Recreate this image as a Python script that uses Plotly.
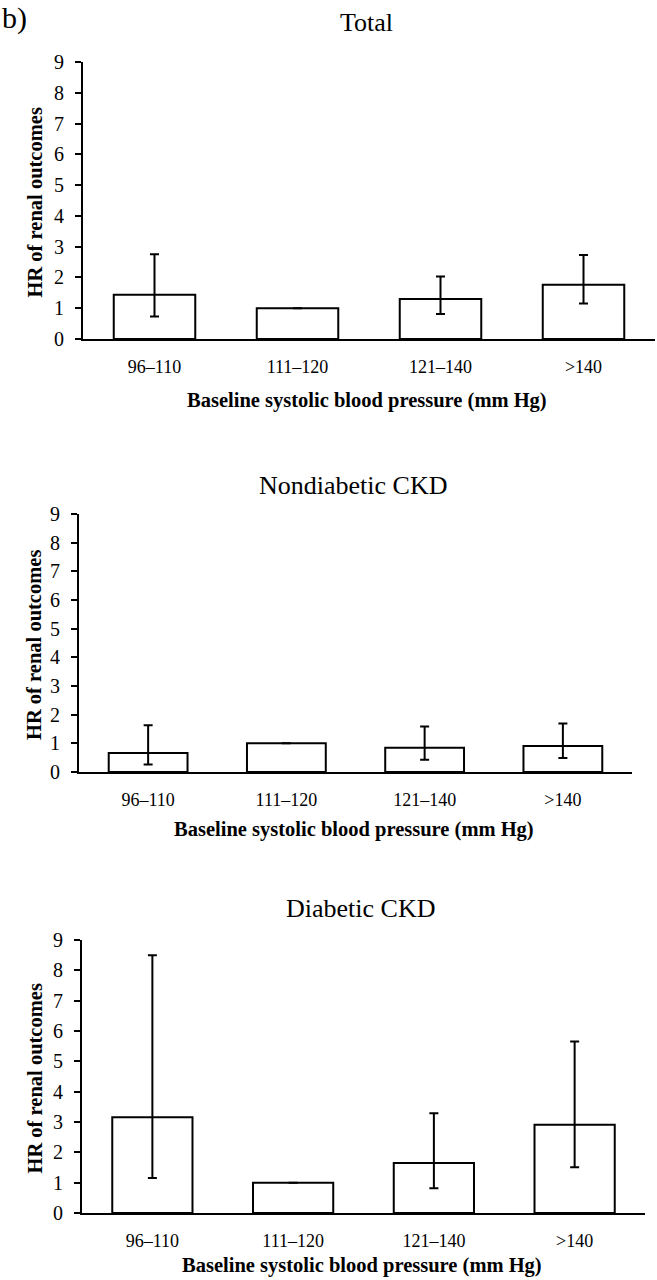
import plotly.graph_objects as go

CATEGORIES = ["96–110", "111–120", "121–140", ">140"]
PANEL_TITLES = ["Total", "Nondiabetic CKD", "Diabetic CKD"]
X_TITLE = "Baseline systolic blood pressure (mm Hg)"
Y_TITLE = "HR of renal outcomes"

HR_TOTAL = [1.44, 1.0, 1.30, 1.76]
UPPER_TOTAL = [2.75, 1.0, 2.03, 2.73]
LOWER_TOTAL = [0.73, 1.0, 0.81, 1.15]

HR_NONDIAB = [0.66, 1.0, 0.85, 0.91]
UPPER_NONDIAB = [1.63, 1.0, 1.59, 1.69]
LOWER_NONDIAB = [0.26, 1.0, 0.43, 0.49]

HR_DIAB = [3.16, 1.0, 1.65, 2.91]
UPPER_DIAB = [8.50, 1.0, 3.29, 5.65]
LOWER_DIAB = [1.15, 1.0, 0.82, 1.51]

Y_TICKS = list(range(0, 10))

W, H = 657, 1280
FONT = "Liberation Serif, Times New Roman, serif"

# pixel boxes of each plot area: (left, right, y at 0, y at 9)
BOXES = [(83, 655, 339, 62), (79, 632, 772, 514), (82, 645, 1213, 940)]
TITLE_Y = [22, 485, 908]
XTITLE_Y = [400, 829, 1265]


def px_x(v):
    return v / W


def px_y(v):
    return 1 - v / H


panels = [
    (HR_TOTAL, UPPER_TOTAL, LOWER_TOTAL),
    (HR_NONDIAB, UPPER_NONDIAB, LOWER_NONDIAB),
    (HR_DIAB, UPPER_DIAB, LOWER_DIAB),
]

fig = go.Figure()
for i, (hr, up, lo) in enumerate(panels):
    n = "" if i == 0 else str(i + 1)
    fig.add_trace(
        go.Bar(
            x=CATEGORIES,
            y=hr,
            width=0.57,
            marker=dict(color="white", line=dict(color="black", width=2)),
            error_y=dict(
                type="data",
                symmetric=False,
                array=[u - v for u, v in zip(up, hr)],
                arrayminus=[v - l for v, l in zip(hr, lo)],
                color="black",
                thickness=2,
                width=4.5,
            ),
            xaxis="x" + n,
            yaxis="y" + n,
            showlegend=False,
        )
    )
    left, right, y0, y9 = BOXES[i]
    fig.update_layout(
        {
            "xaxis" + n: dict(
                domain=[px_x(left), px_x(right)],
                anchor="y" + n,
                range=[-0.5, 3.5],
                automargin=False,
                showline=True,
                linecolor="black",
                linewidth=2,
                ticks="",
                ticklabelstandoff=10,
                tickfont=dict(family=FONT, size=18, color="black"),
                showgrid=False,
                zeroline=False,
                fixedrange=True,
            ),
            "yaxis" + n: dict(
                domain=[px_y(y0), px_y(y9)],
                anchor="x" + n,
                range=[0, 9],
                tickvals=Y_TICKS,
                automargin=False,
                showline=True,
                linecolor="black",
                linewidth=2,
                ticks="outside",
                ticklen=6,
                tickwidth=1.5,
                tickcolor="black",
                ticklabelstandoff=7,
                tickfont=dict(family=FONT, size=20, color="black"),
                showgrid=False,
                zeroline=False,
                fixedrange=True,
            ),
        }
    )
    # panel title
    fig.add_annotation(
        text=PANEL_TITLES[i],
        x=px_x((left + right) / 2 - 3),
        y=px_y(TITLE_Y[i]),
        xref="paper",
        yref="paper",
        showarrow=False,
        font=dict(family=FONT, size=26, color="black"),
        yanchor="middle",
    )
    # x-axis title
    fig.add_annotation(
        text="<b>" + X_TITLE + "</b>",
        x=px_x((left + right) / 2 - 2),
        y=px_y(XTITLE_Y[i]),
        xref="paper",
        yref="paper",
        showarrow=False,
        font=dict(family=FONT, size=20.5, color="black"),
        yanchor="middle",
    )
    # y-axis title
    fig.add_annotation(
        text="<b>" + Y_TITLE + "</b>",
        x=px_x(34),
        y=px_y((y0 + y9) / 2 + 2),
        xref="paper",
        yref="paper",
        textangle=-90,
        showarrow=False,
        font=dict(family=FONT, size=20.5, color="black"),
        xanchor="center",
        yanchor="middle",
    )

fig.add_annotation(
    text="b)",
    x=0,
    y=px_y(18),
    xref="paper",
    yref="paper",
    xanchor="left",
    yanchor="middle",
    showarrow=False,
    font=dict(family=FONT, size=30, color="black"),
)

fig.update_layout(
    width=W,
    height=H,
    margin=dict(l=0, r=0, t=0, b=0, autoexpand=False),
    paper_bgcolor="white",
    plot_bgcolor="white",
)

fig.write_html(
    "out.html",
    config={"displayModeBar": False},
    post_script="document.body.style.margin='0';document.body.style.overflow='hidden';",
)
